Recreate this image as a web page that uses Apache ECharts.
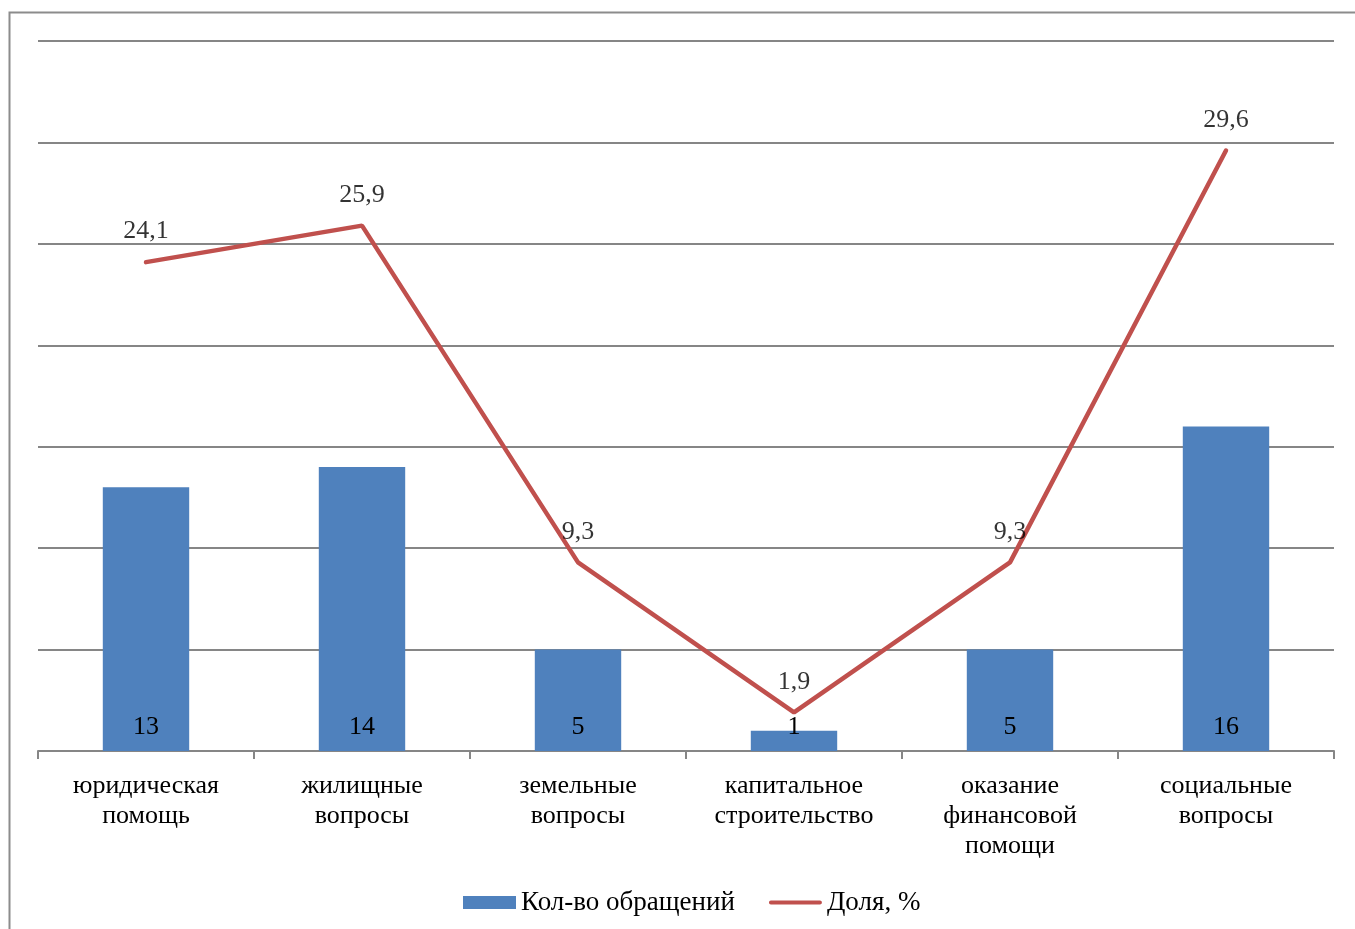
<!DOCTYPE html>
<html><head><meta charset="utf-8">
<script src="https://cdn.jsdelivr.net/npm/echarts@6/dist/echarts.min.js"></script>
<style>html,body{margin:0;padding:0;background:#fff}#c{width:1355px;height:929px}</style>
</head><body><div id="c"></div>
<script>
const categories = ['юридическая\nпомощь','жилищные\nвопросы','земельные\nвопросы','капитальное\nстроительство','оказание\nфинансовой\nпомощи','социальные\nвопросы'];
const countValues = [13, 14, 5, 1, 5, 16];
const shareValues = [24.1, 25.9, 9.3, 1.9, 9.3, 29.6];
const seriesNames = ['Кол-во обращений', 'Доля, %'];

const font = '"Liberation Serif", "Times New Roman", serif';
const chart = echarts.init(document.getElementById('c'));
chart.setOption({
  animation: false,
  backgroundColor: '#fff',
  graphic: [{type:'rect', shape:{x:9.5,y:12.5,width:1400,height:1000}, style:{fill:null, stroke:'#8c8c8c', lineWidth:2}, silent:true}],
  grid: {left: 38, right: 21, top: 41, bottom: 178},
  legend: {
    bottom: 8, left: 458, itemGap: 34, itemWidth: 53, itemHeight: 13,
    textStyle: {fontFamily: font, fontSize: 27, color: '#000'},
    data: [
      {name: seriesNames[0], icon: 'rect'},
      {name: seriesNames[1], icon: 'path://M0,0 L0.01,0 M2,4.5 L51,4.5 Q53,4.5 53,6.5 Q53,8.5 51,8.5 L2,8.5 Q0,8.5 0,6.5 Q0,4.5 2,4.5 Z M53,13 L52.99,13', itemStyle: {color: '#C0504D'}}
    ]
  },
  xAxis: {
    type: 'category', data: categories,
    axisLine: {lineStyle: {color: '#868686', width: 2}},
    axisTick: {show: true, length: 8, lineStyle: {color: '#868686', width: 2}},
    axisLabel: {fontFamily: font, fontSize: 26, color: '#000', lineHeight: 30, margin: 20, interval: 0}
  },
  yAxis: {
    type: 'value', min: 0, max: 35, interval: 5,
    axisLabel: {show: false}, axisLine: {show: false}, axisTick: {show: false},
    splitLine: {lineStyle: {color: '#868686', width: 2}}
  },
  series: [
    {
      name: seriesNames[0], type: 'bar', data: countValues, barWidth: '40%',
      itemStyle: {color: '#4F81BD'},
      label: {show: true, position: 'insideBottom', distance: 11, fontFamily: font, fontSize: 26, color: '#000'}
    },
    {
      name: seriesNames[1], type: 'line', data: shareValues, symbol: 'none',
      lineStyle: {color: '#C0504D', width: 4.5, cap: 'round'}, itemStyle: {color: '#C0504D'}
    },
    {
      name: 'labels', type: 'scatter', data: shareValues, symbolSize: 1, silent: true, z: 5,
      itemStyle: {color: 'rgba(0,0,0,0)'},
      label: {show: true, position: 'top', distance: 17, fontFamily: font, fontSize: 26, color: '#000',
        formatter: p => String(p.value).replace('.', ',')}
    }
  ]
});
</script></body></html>
